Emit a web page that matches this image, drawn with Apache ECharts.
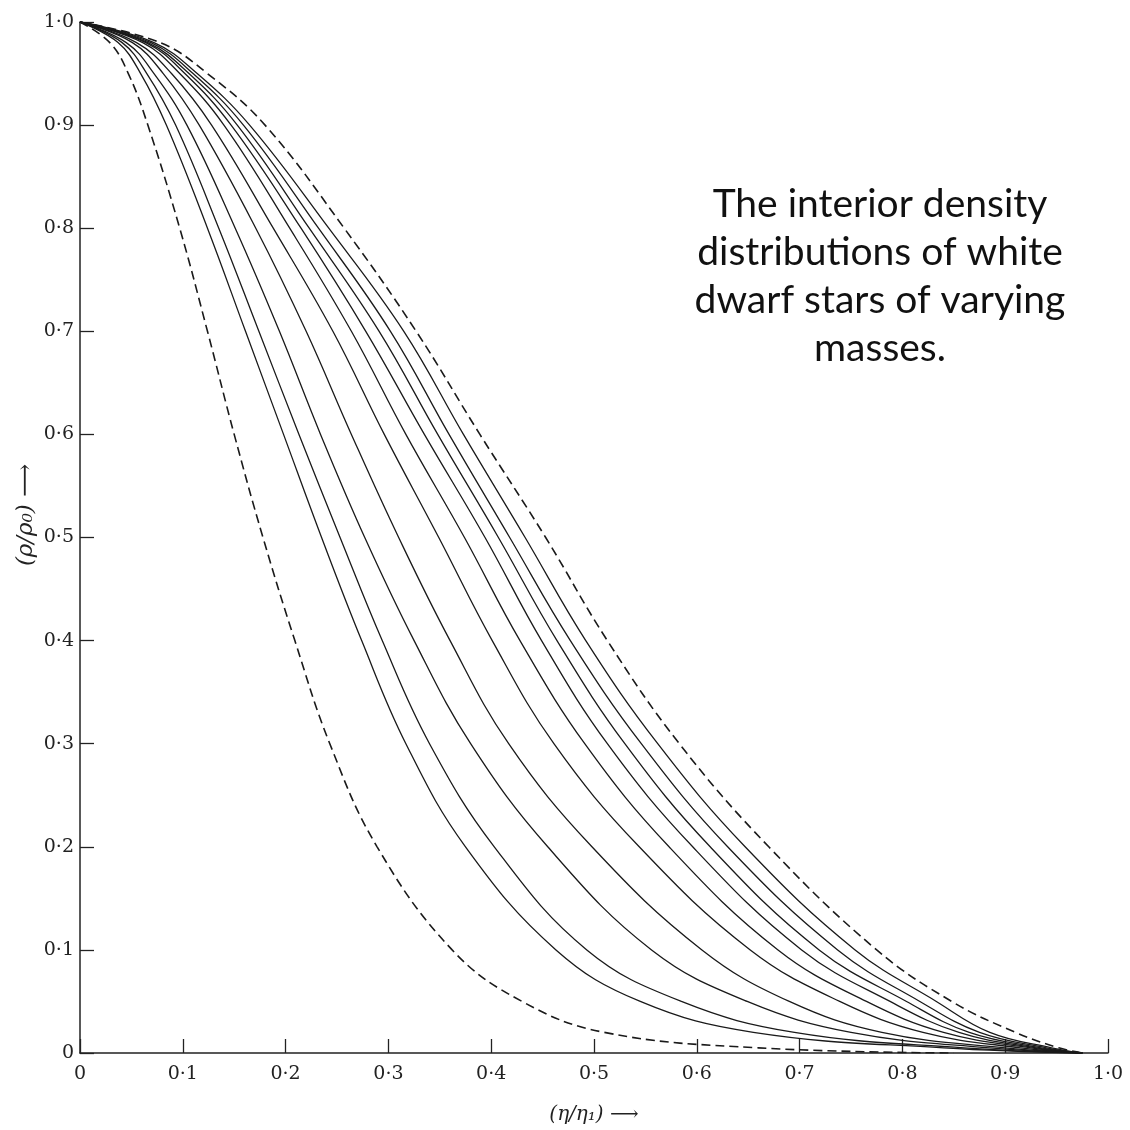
<!DOCTYPE html>
<html>
<head>
<meta charset="utf-8">
<script src="https://cdn.jsdelivr.net/npm/echarts@6/dist/echarts.min.js"></script>
<style>
  html, body { margin: 0; padding: 0; background: #fff; }
  #chart { width: 1130px; height: 1130px; }
</style>
</head>
<body>
<div id="chart"></div>
<script>
const rhoLevels = [1, 0.98, 0.95, 0.9, 0.8, 0.7, 0.6, 0.5, 0.4, 0.3, 0.2, 0.1, 0.05, 0.02, 0.005, 0]

// eta / eta1 for each curve at those levels
const dashedInner = [0, 0.029, 0.047, 0.066, 0.097, 0.124, 0.150, 0.178, 0.209, 0.243, 0.289, 0.362, 0.43, 0.51, 0.66, 0.85]
const dashedOuter = [0, 0.078, 0.124, 0.180, 0.257, 0.327, 0.389, 0.453, 0.513, 0.583, 0.670, 0.775, 0.848, 0.91, 0.952, 0.975]

const solid1 = [0, 0.037, 0.059, 0.084, 0.124, 0.161, 0.198, 0.235, 0.274, 0.317, 0.375, 0.463, 0.545, 0.655, 0.84, 0.975]
const solid2 = [0, 0.041, 0.065, 0.093, 0.135, 0.174, 0.213, 0.253, 0.294, 0.340, 0.403, 0.493, 0.585, 0.695, 0.86, 0.975]
const solid3 = [0, 0.045, 0.072, 0.104, 0.151, 0.194, 0.234, 0.277, 0.325, 0.380, 0.455, 0.556, 0.649, 0.75, 0.885, 0.975]
const solid4 = [0, 0.051, 0.081, 0.116, 0.171, 0.220, 0.264, 0.310, 0.360, 0.417, 0.498, 0.605, 0.69, 0.78, 0.9, 0.975]
const solid5 = [0, 0.055, 0.089, 0.128, 0.188, 0.246, 0.296, 0.349, 0.401, 0.461, 0.544, 0.652, 0.739, 0.82, 0.915, 0.975]
const solid6 = [0, 0.061, 0.097, 0.140, 0.204, 0.264, 0.317, 0.374, 0.428, 0.491, 0.573, 0.679, 0.765, 0.84, 0.925, 0.975]
const solid7 = [0, 0.064, 0.102, 0.147, 0.215, 0.278, 0.335, 0.394, 0.449, 0.513, 0.596, 0.702, 0.788, 0.855, 0.93, 0.975]
const solid8 = [0, 0.066, 0.106, 0.153, 0.223, 0.291, 0.348, 0.407, 0.464, 0.530, 0.613, 0.719, 0.804, 0.865, 0.935, 0.975]
const solid9 = [0, 0.069, 0.110, 0.159, 0.232, 0.302, 0.359, 0.418, 0.477, 0.546, 0.630, 0.737, 0.817, 0.875, 0.94, 0.975]
const solid10 = [0, 0.072, 0.114, 0.165, 0.242, 0.315, 0.373, 0.433, 0.492, 0.562, 0.647, 0.754, 0.833, 0.885, 0.945, 0.975]

const solidCurves = [solid1, solid2, solid3, solid4, solid5, solid6, solid7, solid8, solid9, solid10]

// axis tick labels in the old book style
const tickLabels = ["0", "0·1", "0·2", "0·3", "0·4", "0·5", "0·6", "0·7", "0·8", "0·9", "1·0"]

const caption = "The interior density\ndistributions of white\ndwarf stars of varying\nmasses."

const chart = echarts.init(document.getElementById("chart"), null, { renderer: "canvas" })

const toPoints = (xs) => xs.map((x, i) => [x, rhoLevels[i]])
const fmt = (v) => tickLabels[Math.round(v * 10)] ?? ""

const lineColor = "#1a1a1a"
const serif = "'DejaVu Serif', 'Liberation Serif', serif"

function curve(xs, dashed) {
  return {
    type: "line",
    data: toPoints(xs),
    smooth: 0.4,
    showSymbol: false,
    silent: true,
    lineStyle: {
      color: lineColor,
      width: dashed ? 1.6 : 1.3,
      type: dashed ? [9, 5] : "solid",
    },
  }
}

const axisCommon = {
  type: "value",
  min: 0,
  max: 1,
  interval: 0.1,
  splitLine: { show: false },
  axisLine: { show: true, lineStyle: { color: "#222", width: 1.5 } },
  axisTick: { show: true, inside: true, length: 14, lineStyle: { color: "#222", width: 1.3 } },
  axisLabel: { color: "#222", fontFamily: serif, fontSize: 19, formatter: fmt },
}

const option = {
  backgroundColor: "#fff",
  animation: false,
  grid: { left: 80, right: 22, top: 22, bottom: 77, containLabel: false },
  xAxis: {
    ...axisCommon,
    axisLabel: { ...axisCommon.axisLabel, margin: 12 },
    name: "(η/η₁) ⟶",
    nameLocation: "middle",
    nameGap: 52,
    nameTextStyle: { color: "#222", fontFamily: serif, fontStyle: "italic", fontSize: 20 },
  },
  yAxis: {
    ...axisCommon,
    axisLabel: { ...axisCommon.axisLabel, margin: 6 },
  },
  graphic: [
    {
      type: "text",
      x: 26,
      y: 515,
      rotation: Math.PI / 2,
      style: {
        text: "(ρ/ρ₀) ⟶",
        fill: "#222",
        font: "italic 23px " + serif,
        textAlign: "center",
        textVerticalAlign: "middle",
      },
    },
    {
      type: "text",
      x: 880,
      y: 180,
      style: {
        text: caption,
        fill: "#111",
        font: "39px Lato, 'Open Sans', sans-serif",
        lineHeight: 48,
        textAlign: "center",
      },
    },
  ],
  series: [
    curve(dashedInner, true),
    ...solidCurves.map((xs) => curve(xs, false)),
    curve(dashedOuter, true),
  ],
}

chart.setOption(option)
</script>
</body>
</html>
